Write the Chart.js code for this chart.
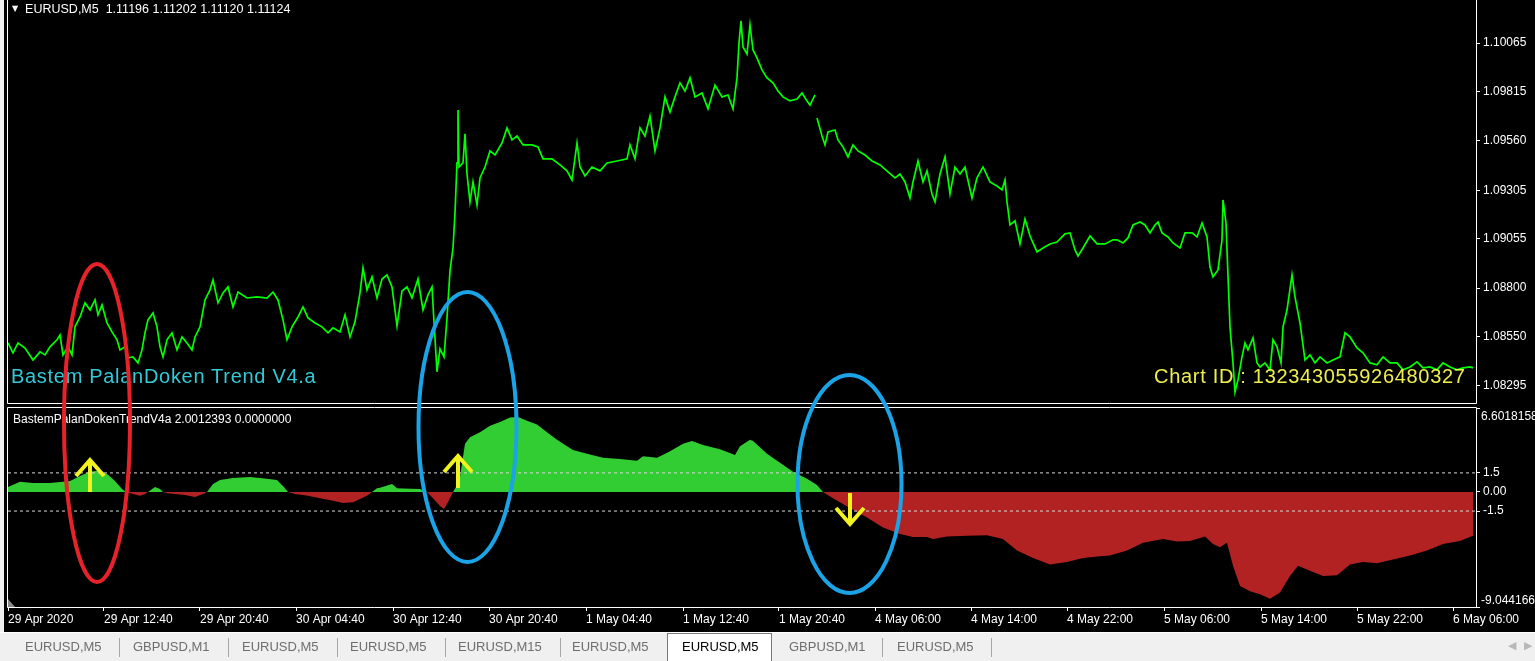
<!DOCTYPE html>
<html><head><meta charset="utf-8">
<script src="https://cdn.jsdelivr.net/npm/chart.js@4.4.0/dist/chart.umd.min.js"></script>
<style>
html,body{margin:0;padding:0;}
body{width:1535px;height:661px;background:#000;position:relative;overflow:hidden;font-family:"Liberation Sans",Arial,sans-serif;}
canvas{position:absolute;left:0;}
#cMain{top:0;}
#cInd{top:405px;}
#frameL{position:absolute;left:0;top:0;width:4px;height:632px;background:#f0f0f0;}
.lbl{position:absolute;color:#fff;font-size:12px;white-space:pre;line-height:14px;}
.big{position:absolute;font-size:20px;letter-spacing:0.7px;line-height:20px;white-space:pre;}
#tabs{position:absolute;left:0;top:632px;width:1535px;height:29px;background:#f0f0f0;border-top:1px solid #ffffff;box-sizing:border-box;}
.tab{position:absolute;top:6px;font-size:13px;line-height:16px;color:#6e6e6e;white-space:pre;}
.sep{position:absolute;top:5px;width:1px;height:19px;background:#a8a8a8;}
#active{position:absolute;left:667px;top:0;width:105px;height:29px;background:#fff;border:1px solid #7a7a7a;border-bottom:none;box-sizing:border-box;}
.arr{position:absolute;top:6px;font-size:11px;color:#b8b8b8;font-family:"DejaVu Sans",sans-serif;}
#shiftTri{position:absolute;left:8px;top:599px;width:0;height:0;border-left:7px solid #8a8a8a;border-top:8px solid transparent;}
svg{position:absolute;left:0;top:0;pointer-events:none;}
</style></head><body>
<div id="frameL"></div>
<canvas id="cMain" width="1535" height="405"></canvas>
<canvas id="cInd" width="1535" height="227"></canvas>
<div id="shiftTri"></div>
<div class="lbl" style="left:12px;top:2px;font-size:12.5px;"><span style="font-family:'DejaVu Sans';font-size:8px;position:relative;top:-2px;">▼</span>  EURUSD,M5  1.11196 1.11202 1.11120 1.11124</div>
<div class="lbl" style="left:13px;top:412px;">BastemPalanDokenTrendV4a 2.0012393 0.0000000</div>
<div class="big" style="left:11px;top:366px;color:#33c9d6;">Bastem PalanDoken Trend V4.a</div>
<div class="big" style="left:1154px;top:366px;color:#eeee50;">Chart ID : 132343055926480327</div>
<svg width="1535" height="632" viewBox="0 0 1535 632">
  <ellipse cx="97" cy="423" rx="33" ry="159" fill="none" stroke="#e8222a" stroke-width="4"/>
  <ellipse cx="467.5" cy="427" rx="49" ry="135" fill="none" stroke="#1aa3e6" stroke-width="4"/>
  <ellipse cx="849.5" cy="484" rx="52" ry="109" fill="none" stroke="#1aa3e6" stroke-width="4"/>
  <g fill="none" stroke="#f2f21e" stroke-width="4">
    <path d="M90 492 L90 461 M76 476 L90 460 L104 476"/>
    <path d="M458 488 L458 458 M444 472 L458 456 L472 472"/>
    <path d="M850 493 L850 522 M836 508 L850 524 L864 508"/>
  </g>
</svg>
<div id="tabs">
  <div class="tab" style="left:25px">EURUSD,M5</div><div class="sep" style="left:119px"></div>
  <div class="tab" style="left:133px">GBPUSD,M1</div><div class="sep" style="left:228px"></div>
  <div class="tab" style="left:242px">EURUSD,M5</div><div class="sep" style="left:337px"></div>
  <div class="tab" style="left:350px">EURUSD,M5</div><div class="sep" style="left:445px"></div>
  <div class="tab" style="left:458px">EURUSD,M15</div><div class="sep" style="left:560px"></div>
  <div class="tab" style="left:572px">EURUSD,M5</div>
  <div id="active"></div>
  <div class="tab" style="left:682px;color:#000">EURUSD,M5</div>
  <div class="tab" style="left:789px">GBPUSD,M1</div><div class="sep" style="left:882px"></div>
  <div class="tab" style="left:897px">EURUSD,M5</div><div class="sep" style="left:991px"></div>
  <div class="arr" style="left:1508px">◀</div><div class="arr" style="left:1524px">▶</div>
</div>
<script>
// ---------- DATA ----------
const xTickBars = [0, 96, 192, 288, 385, 481, 578, 675, 771, 867, 963, 1059, 1156, 1253, 1349, 1445];
const xTickLabels = ['29 Apr 2020','29 Apr 12:40','29 Apr 20:40','30 Apr 04:40','30 Apr 12:40','30 Apr 20:40','1 May 04:40','1 May 12:40','1 May 20:40','4 May 06:00','4 May 14:00','4 May 22:00','5 May 06:00','5 May 14:00','5 May 22:00','6 May 06:00'];
const priceTicks = [1.10065, 1.09815, 1.09560, 1.09305, 1.09055, 1.08800, 1.08550, 1.08295];
const priceRange = [1.08207, 1.10287];
const indTicks = [6.6018158, 1.5, 0, -1.5, -9.044166];
const indTickLabels = ['6.6018158', '1.5', '0.00', '-1.5', '-9.044166'];
const levels = [1.5, -1.5];
const barCount = 1468;

// [bar, close] EURUSD M5 closes
const closesA = [[0,1.08517],[5,1.08466],[10,1.08517],[17,1.08491],[25,1.08429],[32,1.08471],[37,1.08455],[42,1.08497],[49,1.08533],[52,1.08558],[55,1.08455],[60,1.08497],[64,1.08455],[67,1.08600],[72,1.08651],[77,1.08724],[82,1.08687],[87,1.08739],[90,1.08662],[94,1.08713],[99,1.08620],[104,1.08574],[109,1.08533],[112,1.08481],[117,1.08497],[120,1.08440],[125,1.08445],[130,1.08414],[134,1.08481],[137,1.08569],[140,1.08636],[145,1.08672],[149,1.08600],[152,1.08497],[155,1.08445],[159,1.08533],[164,1.08569],[169,1.08481],[174,1.08548],[179,1.08517],[184,1.08481],[187,1.08548],[192,1.08600],[197,1.08739],[202,1.08791],[205,1.08842],[210,1.08724],[215,1.08775],[220,1.08806],[225,1.08703],[230,1.08780],[239,1.08749],[249,1.08755],[259,1.08749],[265,1.08780],[270,1.08739],[275,1.08636],[279,1.08533],[284,1.08600],[290,1.08651],[295,1.08703],[300,1.08646],[307,1.08620],[314,1.08600],[320,1.08569],[325,1.08595],[332,1.08574],[337,1.08662],[342,1.08548],[347,1.08626],[352,1.08775],[355,1.08904],[359,1.08791],[364,1.08858],[369,1.08749]];
const closesB = [[374,1.08847],[379,1.08868],[384,1.08806],[389,1.08605],[394,1.08785],[399,1.08806],[404,1.08749],[410,1.08847],[415,1.08687],[420,1.08765],[424,1.08806],[426,1.08626],[429,1.08368],[432,1.08486],[436,1.08445],[439,1.08646],[442,1.08889],[445,1.09007],[447,1.09188],[449,1.09446],[450,1.09719],[451,1.09425],[455,1.09446],[457,1.09596],[459,1.09389],[462,1.09245],[465,1.09348],[469,1.09229],[472,1.09369],[477,1.09425],[482,1.09508],[487,1.09487],[494,1.09549],[499,1.09627],[504,1.09565],[509,1.09585],[515,1.09539],[524,1.09539],[530,1.09529],[535,1.09467],[544,1.09467],[552,1.09436],[559,1.09405],[564,1.09358],[569,1.09549],[572,1.09425],[577,1.09379],[584,1.09425],[592,1.09405],[599,1.09446],[609,1.09456],[619,1.09467],[622,1.09539],[627,1.09467],[632,1.09627],[637,1.09585],[642,1.09688],[647,1.09508],[652,1.09627],[657,1.09787],[662,1.09709],[667,1.09787],[672,1.09859],[677,1.09817],[682,1.09885],[687,1.09787],[694,1.09807],[700,1.09725],[707,1.09848],[714,1.09787],[720,1.09797],[725,1.09725],[729,1.09885],[731,1.10065],[733,1.10179],[735,1.10045]];
const closesC = [[739,1.10008],[742,1.10158],[745,1.10029],[749,1.09988],[754,1.09926],[759,1.09885],[765,1.09859],[770,1.09817],[775,1.09787],[782,1.09766],[789,1.09776],[794,1.09807],[799,1.09766],[802,1.09745],[807,1.09797],[808,null],[809,1.09678],[814,1.09585],[817,1.09539],[820,1.09606],[827,1.09616],[830,1.09565],[835,1.09529],[840,1.09477],[845,1.09539],[850,1.09508],[857,1.09487],[864,1.09456],[872,1.09436],[880,1.09400],[887,1.09369],[892,1.09389],[897,1.09348],[902,1.09265],[905,1.09348],[910,1.09456],[915,1.09348],[919,1.09405],[924,1.09286],[927,1.09245],[932,1.09389],[937,1.09477],[942,1.09286],[947,1.09425],[952,1.09389],[957,1.09425],[964,1.09265],[969,1.09369],[975,1.09425],[982,1.09348],[989,1.09327],[994,1.09307],[997,1.09358],[999,1.09245],[1002,1.09126],[1007,1.09147],[1012,1.09028],[1017,1.09157],[1022,1.09069],[1029,1.08987],[1035,1.09007],[1042,1.09028],[1049,1.09038],[1057,1.09080],[1062,1.09085],[1067,1.08997],[1070,1.08966],[1075,1.09007],[1082,1.09069],[1089,1.09028],[1097,1.09028],[1105,1.09049]];
const closesD = [[1109,1.09049],[1115,1.09033],[1120,1.09059],[1125,1.09126],[1132,1.09141],[1137,1.09126],[1142,1.09085],[1147,1.09126],[1150,1.09141],[1154,1.09085],[1160,1.09064],[1165,1.09033],[1172,1.09007],[1177,1.09085],[1184,1.09085],[1189,1.09064],[1194,1.09136],[1199,1.09064],[1202,1.08909],[1205,1.08858],[1210,1.08894],[1214,1.09049],[1215,1.09255],[1218,1.09136],[1219,1.08997],[1222,1.08600],[1225,1.08414],[1227,1.08264],[1230,1.08326],[1234,1.08445],[1237,1.08517],[1240,1.08481],[1245,1.08543],[1249,1.08414],[1252,1.08393],[1257,1.08414],[1262,1.08378],[1265,1.08533],[1269,1.08497],[1273,1.08414],[1275,1.08600],[1279,1.08687],[1284,1.08868],[1287,1.08755],[1292,1.08620],[1297,1.08429],[1302,1.08455],[1307,1.08414],[1312,1.08445],[1319,1.08414],[1325,1.08429],[1332,1.08445],[1337,1.08569],[1342,1.08548],[1349,1.08491],[1355,1.08466],[1362,1.08414],[1369,1.08404],[1375,1.08445],[1382,1.08414],[1389,1.08414],[1395,1.08378],[1402,1.08393],[1409,1.08419],[1415,1.08388],[1422,1.08393],[1429,1.08378],[1435,1.08414],[1442,1.08393],[1449,1.08378],[1455,1.08388],[1462,1.08393],[1465,1.08388]];

// [bar, value] BastemPalanDokenTrendV4a histogram
const trendA = [[0,0.4],[12,0.8],[25,0.7],[42,0.7],[55,0.8],[62,0.87],[72,1.26],[82,1.6],[92,1.66],[99,1.42],[107,0.87],[114,0.24],[118,0],[125,-0.16],[132,-0.3],[137,-0.16],[140,0],[147,0.4],[152,0.24],[155,0],[159,-0.1],[167,-0.16],[177,-0.24],[187,-0.4],[195,-0.16],[199,0],[205,0.63],[212,0.95],[225,1.1],[242,1.18],[259,1.03],[269,0.95],[275,0.47],[280,0],[287,-0.16],[300,-0.3],[312,-0.5],[325,-0.7],[335,-0.87],[345,-0.8],[352,-0.55],[359,-0.3],[364,0],[369,0.3]];
const trendB = [[372,0.34],[384,0.63],[389,0.3],[395,0.27],[412,0.24],[419,0],[425,-0.5],[432,-1.1],[436,-1.34],[440,-0.8],[445,0],[448,0.4],[452,1.2],[457,3.8],[462,4.3],[472,4.7],[482,5.2],[492,5.5],[502,5.85],[510,5.9],[519,5.6],[529,5.3],[539,4.7],[549,4.1],[559,3.6],[565,3.3],[579,3.0],[595,2.7],[612,2.6],[629,2.45],[635,2.8],[649,2.7],[662,3.2],[675,3.8],[684,4.0],[695,3.7],[712,3.35],[727,2.9],[732,3.6],[742,4.1]];
const trendC = [[745,4.0],[759,3.0],[772,2.3],[785,1.58],[799,1.03],[809,0.55],[815,0],[825,-0.5],[842,-1.26],[859,-2.0],[875,-2.8],[892,-3.3],[905,-3.55],[919,-3.55],[925,-3.7],[939,-3.5],[959,-3.45],[979,-3.4],[995,-3.7],[1009,-4.6],[1025,-5.2],[1042,-5.7],[1059,-5.5],[1075,-5.2],[1092,-5.05],[1102,-5.0]];
const trendD = [[1119,-4.6],[1135,-4.0],[1155,-3.7],[1169,-3.9],[1182,-3.85],[1197,-3.5],[1205,-4.1],[1212,-4.35],[1219,-4.0],[1225,-5.8],[1232,-7.4],[1242,-7.8],[1252,-8.05],[1262,-8.4],[1272,-7.9],[1282,-6.6],[1290,-5.8],[1302,-6.2],[1315,-6.6],[1329,-6.55],[1342,-5.7],[1355,-5.5],[1369,-5.6],[1385,-5.3],[1402,-5.0],[1419,-4.6],[1435,-4.1],[1452,-3.85],[1465,-3.45]];

// ---------- BUILD ----------
const toPts = arr => arr.map(p => ({x: p[0], y: p[1]}));
const closes = toPts([].concat(closesA, closesB, closesC, closesD));
const trend = toPts([].concat(trendA, trendB, trendC, trendD));
const FONT = {family: "'Liberation Sans', Arial, sans-serif", size: 12};

const framePlugin = {
  id: 'frame',
  afterDraw(chart, args, opts) {
    const {ctx, chartArea: a} = chart;
    ctx.save();
    ctx.strokeStyle = '#ffffff';
    ctx.lineWidth = 1;
    ctx.beginPath();
    ctx.moveTo(a.left - 0.5, opts.top ? a.top - 0.5 : 0);
    ctx.lineTo(a.left - 0.5, a.bottom + 0.5);
    ctx.lineTo(a.right + 0.5, a.bottom + 0.5);
    ctx.lineTo(a.right + 0.5, opts.top ? a.top - 0.5 : 0);
    if (opts.top) ctx.lineTo(a.left - 0.5, a.top - 0.5);
    ctx.stroke();
    ctx.restore();
  }
};

const edgeLabelPlugin = {
  id: 'edgeLabels',
  afterDraw(chart) {
    const s = chart.scales.y, ctx = chart.ctx;
    ctx.save();
    ctx.fillStyle = '#ffffff';
    ctx.font = "12px 'Liberation Sans', Arial, sans-serif";
    ctx.textAlign = 'left';
    ctx.textBaseline = 'middle';
    ctx.fillText(indTickLabels[0], s.left + 5, s.getPixelForValue(indTicks[0]) + 9);
    ctx.fillText(indTickLabels[indTicks.length - 1], s.left + 5, s.getPixelForValue(indTicks[indTicks.length - 1]) - 6);
    ctx.restore();
  }
};

Chart.defaults.animation = false;

new Chart(document.getElementById('cMain'), {
  type: 'line',
  data: {datasets: [{
    data: closes, borderColor: '#00ff00', borderWidth: 1.7, pointRadius: 0,
    tension: 0, spanGaps: false, fill: false
  }]},
  options: {
    responsive: false, animation: false, events: [],
    layout: {padding: {left: 8, top: 0, right: 0, bottom: 2}},
    plugins: {legend: {display: false}, tooltip: {enabled: false}, frame: {top: false}},
    scales: {
      x: {type: 'linear', min: 0, max: barCount, display: false},
      y: {
        type: 'linear', position: 'right', min: priceRange[0], max: priceRange[1],
        afterBuildTicks: s => { s.ticks = priceTicks.map(v => ({value: v})); },
        afterFit: s => { s.width = 59; s.paddingTop = 0; s.paddingBottom = 0; },
        ticks: {color: '#ffffff', font: FONT, padding: 3, callback: v => v.toFixed(5)},
        grid: {drawOnChartArea: false, drawTicks: true, tickLength: 4, color: '#ffffff'},
        border: {display: false}
      }
    }
  },
  plugins: [framePlugin]
});

new Chart(document.getElementById('cInd'), {
  type: 'line',
  data: {datasets: [
    {data: trend, borderWidth: 0, borderColor: 'rgba(0,0,0,0)', pointRadius: 0, tension: 0, order: 2,
     fill: {target: 'origin', above: '#32cd32', below: '#b22222'}},
    ...levels.map(v => ({data: [{x: 0, y: v}, {x: barCount, y: v}], borderColor: '#d8d8d8', borderWidth: 1,
      borderDash: [3, 3], pointRadius: 0, fill: false, order: 0}))
  ]},
  options: {
    responsive: false, animation: false, events: [],
    layout: {padding: {left: 8, top: 3, right: 0, bottom: 0}},
    plugins: {legend: {display: false}, tooltip: {enabled: false}, frame: {top: true}},
    scales: {
      x: {
        type: 'linear', position: 'bottom', min: 0, max: barCount,
        afterBuildTicks: s => { s.ticks = xTickBars.map(v => ({value: v})); },
        afterFit: s => { s.height = 25; s.paddingLeft = 0; s.paddingRight = 0; },
        ticks: {color: '#ffffff', font: FONT, padding: 1, align: 'start', autoSkip: false, maxRotation: 0,
          callback: v => xTickLabels[xTickBars.indexOf(v)]},
        grid: {drawOnChartArea: false, drawTicks: true, tickLength: 4, color: '#ffffff'},
        border: {display: false}
      },
      y: {
        type: 'linear', position: 'right', min: indTicks[indTicks.length - 1], max: indTicks[0],
        afterBuildTicks: s => { s.ticks = indTicks.map(v => ({value: v})); },
        afterFit: s => { s.width = 59; s.paddingTop = 0; s.paddingBottom = 0; },
        ticks: {color: '#ffffff', font: FONT, padding: 3,
          callback: (v, i) => (i === 0 || i === indTicks.length - 1) ? '' : indTickLabels[i]},
        grid: {drawOnChartArea: false, drawTicks: true, tickLength: 4, color: '#ffffff'},
        border: {display: false}
      }
    }
  },
  plugins: [framePlugin, edgeLabelPlugin]
});
</script>
</body></html>
